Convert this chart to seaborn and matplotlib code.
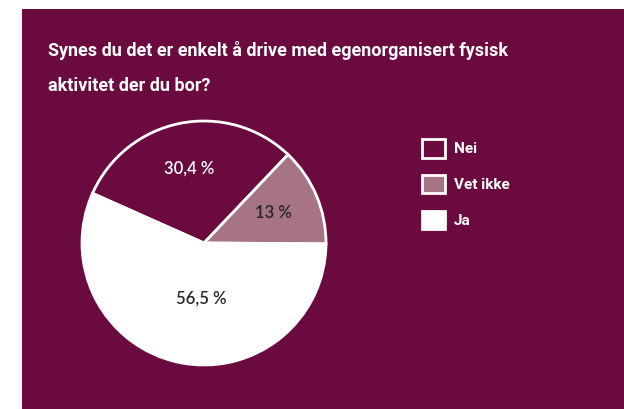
import seaborn as sns
import matplotlib.pyplot as plt
import numpy as np
from matplotlib.patches import Rectangle, Patch

# data
categories = ['Nei', 'Vet ikke', 'Ja']
shares = [30.4, 13.0, 56.5]
share_labels = ['30,4 %', '13 %', '56,5 %']
title = 'Synes du det er enkelt å drive med egenorganisert fysisk\naktivitet der du bor?'

maroon = '#6a0a3e'
mauve = '#a67485'
colors = [maroon, mauve, 'white']
label_colors = ['white', '#262626', '#262626']
label_dist = [0.62, 0.62, 0.46]
label_turn = [0, 0, 9]  # degrees, nudges the big label like in the original

sns.set_theme(style='white')
plt.rcParams['font.family'] = ['Roboto', 'DejaVu Sans']

fig = plt.figure(figsize=(6.24, 4.09), dpi=100, facecolor='white')
W, H = 624, 409
fig.patches.append(Rectangle((22 / W, 0), 1, 1 - 9 / H, transform=fig.transFigure,
                             facecolor=maroon, edgecolor='none', zorder=-1))

# pie axes: center (204, 243) px, radius 122 px
r = 122
lim = 1.05
size = 2 * r * lim
ax = fig.add_axes([(204 - r * lim) / W, (H - 243 - r * lim) / H, size / W, size / H])
ax.set_facecolor('none')
ax.axis('off')

wedges, _ = ax.pie(shares, colors=colors, startangle=156, counterclock=False,
                   wedgeprops=dict(edgecolor='white', linewidth=2))
ax.set_xlim(-lim, lim)
ax.set_ylim(-lim, lim)
ax.set_aspect('equal')

for w, txt, c, d, turn in zip(wedges, share_labels, label_colors, label_dist, label_turn):
    mid = np.deg2rad((w.theta1 + w.theta2) / 2 + turn)
    ax.text(d * np.cos(mid), d * np.sin(mid), txt, ha='center', va='center',
            color=c, fontsize=12, fontweight='semibold', family=['Lato', 'DejaVu Sans'])

fig.text(48 / W, 1 - 41 / H, title, ha='left', va='top', color='white',
         fontsize=13, fontweight='bold', linespacing=2.2)

handles = [Patch(facecolor=c, edgecolor='white', linewidth=2) for c in colors]
leg = fig.legend(handles, categories, loc='upper left',
                 bbox_to_anchor=(422 / W, 1 - 139 / H), frameon=False,
                 handlelength=1.5, handleheight=1.5, labelspacing=1.12,
                 handletextpad=0.6, borderpad=0, borderaxespad=0,
                 prop=dict(size=11, weight='bold'))
for t in leg.get_texts():
    t.set_color('white')

fig.savefig('out.png', dpi=100, facecolor='white')
